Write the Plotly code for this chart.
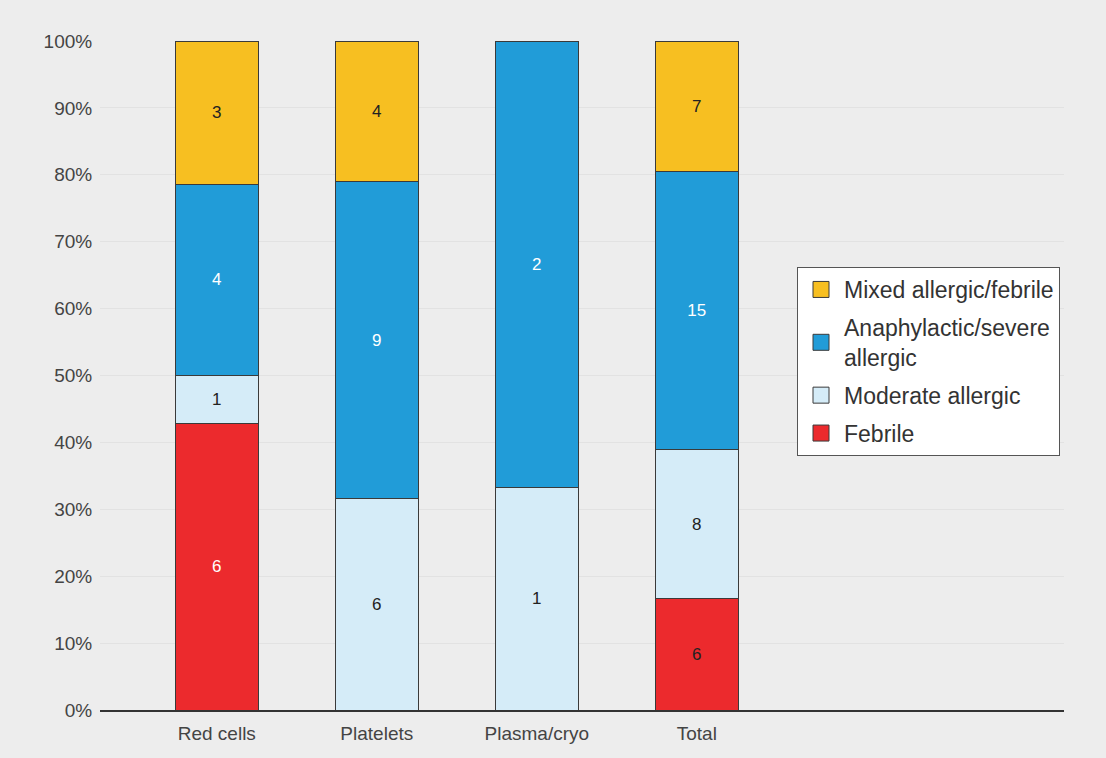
import plotly.graph_objects as go

categories = ["Red cells", "Platelets", "Plasma/cryo", "Total"]
febrile = [6, None, None, 6]
moderate = [1, 6, 1, 8]
anaphylactic = [4, 9, 2, 15]
mixed = [3, 4, None, 7]

series = [
    ("Febrile", febrile, "#EC2A2D", ["#ffffff", "#222222", "#222222", "#222222"]),
    ("Moderate allergic", moderate, "#D5ECF8", ["#222222"] * 4),
    ("Anaphylactic/severe<br>allergic", anaphylactic, "#219CD8", ["#ffffff"] * 4),
    ("Mixed allergic/febrile", mixed, "#F7BF21", ["#222222"] * 4),
]

W, H = 1106, 758
ml, mr, mt, mb = 100, 42, 41, 48
pw, ph = W - ml - mr, H - mt - mb

fig = go.Figure()
# legend swatches first, in legend order (top to bottom)
for i, (name, vals, color, tcol) in reversed(list(enumerate(series))):
    fig.add_trace(go.Scatter(
        x=[categories[0]], y=[None], mode="markers", name=name,
        marker=dict(symbol="square", size=20, color=color,
                    line=dict(color="#3a3a3a", width=1)),
        legendgroup=f"g{i}", showlegend=True, hoverinfo="skip",
    ))
# stacked bars, bottom to top
for i, (name, vals, color, tcol) in enumerate(series):
    fig.add_trace(go.Bar(
        x=categories, y=vals, name=name,
        marker=dict(color=color, line=dict(color="#3a3a3a", width=1)),
        text=[str(v) if v is not None else "" for v in vals],
        textposition="inside", insidetextanchor="middle", textangle=0,
        textfont=dict(size=17, color=tcol, family="Liberation Sans, Arial"),
        width=0.52, showlegend=False,
        hoverinfo="skip",
    ))

fig.update_layout(
    width=W, height=H,
    margin=dict(l=ml, r=mr, t=mt, b=mb, pad=0),
    barmode="stack", barnorm="percent",
    paper_bgcolor="#EDEDED", plot_bgcolor="rgba(0,0,0,0)",
    font=dict(family="Liberation Sans, Arial", color="#444444", size=19),
    uniformtext=dict(minsize=17, mode="show"),
    legend=dict(
        x=(797 - ml) / pw, y=(H - mb - 267) / ph, xanchor="left", yanchor="top",
        traceorder="grouped", bgcolor="#ffffff", bordercolor="#555555",
        borderwidth=1, font=dict(size=23, color="#333333"), tracegroupgap=5,
        itemwidth=36, itemsizing="trace",
    ),
    showlegend=True,
)
fig.update_xaxes(
    type="category", categoryorder="array", categoryarray=categories,
    range=[-0.73, 5.295], showgrid=False, showline=True, linecolor="#333333",
    linewidth=1.5, ticks="outside", ticklen=5, tickcolor="rgba(0,0,0,0)",
    tickfont=dict(size=19, color="#444444"),
)
fig.update_yaxes(
    range=[0, 100], dtick=10, ticksuffix="%", showgrid=True, gridcolor="#E2E2E2",
    gridwidth=1, zeroline=False, showline=False, ticks="outside", ticklen=3,
    tickcolor="rgba(0,0,0,0)", tickfont=dict(size=19, color="#444444"),
)

fig.write_html("out.html")
